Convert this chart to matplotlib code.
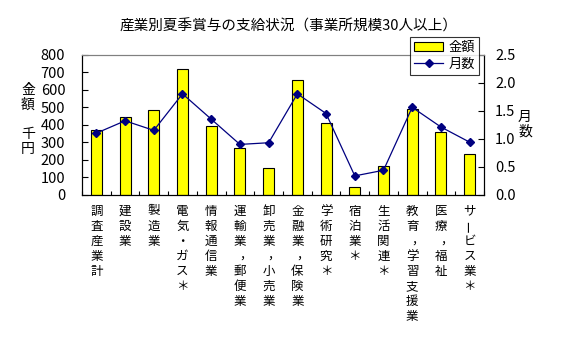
import matplotlib
matplotlib.use("Agg")
import matplotlib.pyplot as plt
import matplotlib.transforms as mtransforms
import numpy as np

plt.rcParams['font.family'] = ['Noto Sans CJK JP', 'DejaVu Sans']

title = "産業別夏季賞与の支給状況（事業所規模30人以上）"
categories = ["調査産業計", "建設業", "製造業", "電気・ガス＊", "情報通信業",
              "運輸業，郵便業", "卸売業，小売業", "金融業，保険業", "学術研究＊",
              "宿泊業＊", "生活関連＊", "教育，学習支援業", "医療，福祉", "サービス業＊"]
amount = [369, 442, 484, 715, 391, 267, 153, 652, 408, 45, 166, 488, 357, 233]
months = [1.10, 1.32, 1.15, 1.80, 1.35, 0.90, 0.93, 1.80, 1.45, 0.34, 0.44, 1.56, 1.21, 0.94]
left_ticks = [0, 100, 200, 300, 400, 500, 600, 700, 800]
right_ticks = [0.0, 0.5, 1.0, 1.5, 2.0, 2.5]

W, H = 561, 346
fig = plt.figure(figsize=(W / 100, H / 100), dpi=100)
fig.patch.set_facecolor("white")

l, r, t, b = 82, 484, 54.5, 195
ax = fig.add_axes([l / W, 1 - b / H, (r - l) / W, (b - t) / H])
ax2 = ax.twinx()

x = np.arange(len(categories))
bars = ax.bar(x, amount, width=0.38, color="#FFFF00", edgecolor="black", linewidth=0.8,
              label="金額", zorder=2)
line, = ax2.plot(x, months, color="#000080", marker="D", markersize=4.5, linewidth=0.9,
                 label="月数", zorder=3)

ax.set_xlim(-0.5, len(categories) - 0.5)
ax.set_ylim(0, 800)
ax2.set_ylim(0, 2.5)
ax.set_yticks(left_ticks)
ax.set_yticklabels([str(v) for v in left_ticks])
ax2.set_yticks(right_ticks)
ax2.set_yticklabels([f"{v:.1f}" for v in right_ticks])

ax.set_xticks(np.arange(len(categories) + 1) - 0.5)
ax.set_xticklabels([])
ax.tick_params(axis="x", direction="in", length=3, width=0.8)
ax.tick_params(axis="y", direction="in", length=4, width=0.8, labelsize=10.5, pad=12)
ax2.tick_params(axis="y", direction="in", length=4, width=0.8, labelsize=10.5, pad=8)

for sp in ["left", "bottom", "right"]:
    ax.spines[sp].set_color("black")
    ax2.spines[sp].set_color("black")
ax.spines["top"].set_color("#808080")
ax2.spines["top"].set_color("#808080")
ax.patch.set_visible(False)

# vertical category labels
trans = mtransforms.blended_transform_factory(ax.transData, fig.transFigure)
y0 = 1 - 211 / H
pitch = 15.1 / H
for i, lab in enumerate(categories):
    for j, ch in enumerate(lab):
        yy = y0 - j * pitch
        if ch == "，":
            fig.text(i + 0.18, yy + 0.004, "，", transform=trans, ha="center", va="center", fontsize=9)
        elif ch == "ー":
            fig.text(i, yy, ch, transform=trans, ha="center", va="center", fontsize=9, rotation=90)
        else:
            fig.text(i, yy, ch, transform=trans, ha="center", va="center", fontsize=9)

# axis labels (vertical stacked)
fig.text(28 / W, 1 - 90 / H, "金", ha="center", va="center", fontsize=10)
fig.text(28 / W, 1 - 105 / H, "額", ha="center", va="center", fontsize=10)
fig.text(28 / W, 1 - 134 / H, "千", ha="center", va="center", fontsize=10)
fig.text(28 / W, 1 - 149 / H, "円", ha="center", va="center", fontsize=10)
fig.text(525 / W, 1 - 117 / H, "月", ha="center", va="center", fontsize=10)
fig.text(525 / W, 1 - 132 / H, "数", ha="center", va="center", fontsize=10)

fig.text(288 / W, 1 - 26 / H, title, ha="center", va="center", fontsize=10.5)

leg = fig.legend([bars, line], ["金額", "月数"], loc="upper right",
                 bbox_to_anchor=(479 / W, 1 - 37 / H), frameon=True, fancybox=False,
                 edgecolor="black", fontsize=9.5, borderpad=0.3, labelspacing=0.3,
                 handlelength=2.2, handletextpad=0.4, borderaxespad=0)
leg.get_frame().set_linewidth(0.8)

fig.savefig("out.png", dpi=100)
